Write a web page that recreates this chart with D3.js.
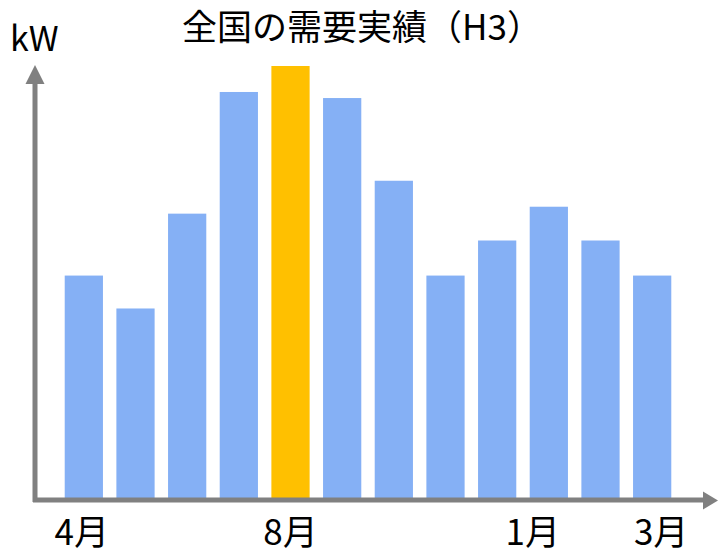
<!DOCTYPE html>
<html>
<head>
<meta charset="utf-8">
<script src="https://cdn.jsdelivr.net/npm/d3@7/dist/d3.min.js"></script>
<style>
  html, body { margin: 0; padding: 0; background: #ffffff; }
  svg { display: block; }
  text { font-family: "Noto Sans CJK JP", "Noto Sans", sans-serif; fill: #000; }
</style>
</head>
<body>
<script>
// Monthly national demand, fiscal year H3 (April to March), relative kW
const months = ["4月", "5月", "6月", "7月", "8月", "9月", "10月", "11月", "12月", "1月", "2月", "3月"];
const demand = [51.6, 44.0, 65.9, 94.0, 100, 92.6, 73.5, 51.6, 59.7, 67.5, 59.7, 51.6];
const peakMonth = "8月";
const shownTicks = ["4月", "8月", "1月", "3月"];
const titleText = "全国の需要実績（H3）";
const unitText = "kW";

const W = 718, H = 556;
const axisColor = "#808080";
const barColor = "#85B0F5";
const peakColor = "#FFC000";

const svg = d3.select("body").append("svg")
  .attr("width", W).attr("height", H);

const x = d3.scaleBand()
  .domain(months)
  .range([58, 678])
  .paddingInner(0.26)
  .paddingOuter(0.13);

const y = d3.scaleLinear()
  .domain([0, 100])
  .range([499, 66]);

// bars
svg.append("g").selectAll("rect")
  .data(months.map((m, i) => ({ m, v: demand[i] })))
  .join("rect")
  .attr("x", d => x(d.m))
  .attr("y", d => y(d.v))
  .attr("width", x.bandwidth())
  .attr("height", d => y(0) - y(d.v))
  .attr("fill", d => d.m === peakMonth ? peakColor : barColor);

// axes with arrowheads
const axes = svg.append("g");
axes.append("line")
  .attr("x1", 35).attr("y1", 502).attr("x2", 35).attr("y2", 82)
  .attr("stroke", axisColor).attr("stroke-width", 5);
axes.append("path")
  .attr("d", "M35,65 L44.5,84 L25.5,84 Z")
  .attr("fill", axisColor);
axes.append("line")
  .attr("x1", 33).attr("y1", 500).attr("x2", 705).attr("y2", 500)
  .attr("stroke", axisColor).attr("stroke-width", 5);
axes.append("path")
  .attr("d", "M718,500.5 L703,491.5 L703,509.5 Z")
  .attr("fill", axisColor);

// month labels under selected bars
const labelNudge = { "4月": -2, "8月": 0, "1月": -16, "3月": 9 };
svg.append("g").selectAll("text")
  .data(shownTicks)
  .join("text")
  .attr("x", d => x(d) + x.bandwidth() / 2 + (labelNudge[d] || 0))
  .attr("y", 545)
  .attr("text-anchor", "middle")
  .attr("font-size", 35)
  .text(d => d);

// title and unit
svg.append("text")
  .attr("x", 362).attr("y", 40)
  .attr("text-anchor", "middle")
  .attr("font-size", 35)
  .text(titleText);

svg.append("text")
  .attr("x", 10).attr("y", 51)
  .attr("font-size", 34)
  .text(unitText);
</script>
</body>
</html>
